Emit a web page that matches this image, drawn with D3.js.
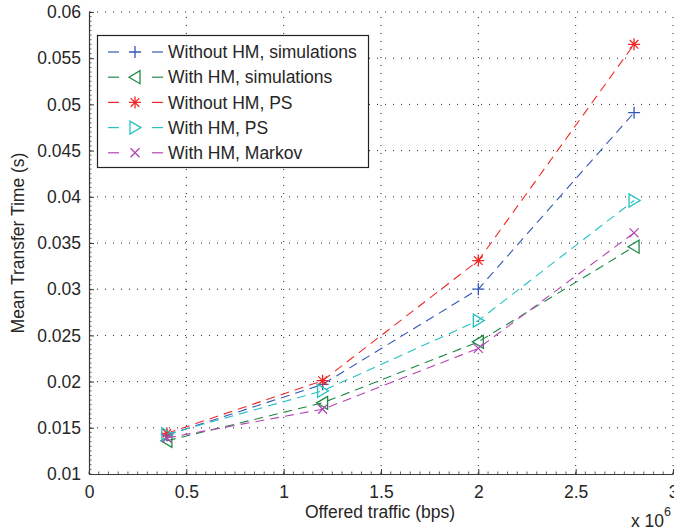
<!DOCTYPE html>
<html>
<head>
<meta charset="utf-8">
<script src="https://cdn.jsdelivr.net/npm/d3@7"></script>
<style>
  html, body { margin: 0; padding: 0; background: #fff; }
  svg { display: block; }
  text { font-family: "Liberation Sans", Arial, Helvetica, sans-serif; fill: #262626; }
</style>
</head>
<body>
<svg id="chart" width="674" height="530"></svg>
<script>
// ---- data ----
const xValues = [0.4e6, 1.2e6, 2.0e6, 2.8e6];
const seriesNames = ["Without HM, simulations", "With HM, simulations", "Without HM, PS", "With HM, PS", "With HM, Markov"];
const withoutHMSim = [0.0142, 0.0197, 0.0300, 0.0491];
const withHMSim    = [0.0136, 0.0177, 0.0243, 0.0346];
const withoutHMPS  = [0.0144, 0.0201, 0.0331, 0.0565];
const withHMPS     = [0.0143, 0.0190, 0.0266, 0.0396];
const withHMMarkov = [0.0139, 0.0170, 0.0236, 0.0361];
const xTicks = [0, 0.5e6, 1e6, 1.5e6, 2e6, 2.5e6, 3e6];
const xTickLabels = ["0", "0.5", "1", "1.5", "2", "2.5", "3"];
const yTicks = [0.01, 0.015, 0.02, 0.025, 0.03, 0.035, 0.04, 0.045, 0.05, 0.055, 0.06];
const yTickLabels = ["0.01", "0.015", "0.02", "0.025", "0.03", "0.035", "0.04", "0.045", "0.05", "0.055", "0.06"];

const series = [
  { name: seriesNames[0], values: withoutHMSim, color: "#3557b8", marker: "plus" },
  { name: seriesNames[1], values: withHMSim,    color: "#1f8a45", marker: "triLeft" },
  { name: seriesNames[2], values: withoutHMPS,  color: "#f02828", marker: "star" },
  { name: seriesNames[3], values: withHMPS,     color: "#22c2c2", marker: "triRight" },
  { name: seriesNames[4], values: withHMMarkov, color: "#b444b4", marker: "cross" }
];

// ---- layout ----
const svg = d3.select("#chart");
const pLeft = 89, pRight = 673, pTop = 12, pBottom = 474;
const x = d3.scaleLinear().domain([0, 3e6]).range([pLeft, pRight]);
const y = d3.scaleLinear().domain([0.01, 0.06]).range([pBottom, pTop]);
const axisColor = "#3a3a3a";
const fs = 17.5;

// grid
const grid = svg.append("g");
xTicks.filter(t => t > 0).forEach(t => {
  grid.append("line").attr("x1", x(t)).attr("x2", x(t)).attr("y1", pBottom).attr("y2", pTop)
    .attr("stroke", "#222").attr("stroke-width", 1).attr("stroke-dasharray", "1,7");
});
yTicks.filter(t => t > 0.01).forEach(t => {
  grid.append("line").attr("x1", pLeft).attr("x2", pRight).attr("y1", y(t)).attr("y2", y(t))
    .attr("stroke", "#222").attr("stroke-width", 1).attr("stroke-dasharray", "1,7");
});

// axes
const xAxis = d3.axisBottom(x).tickValues(xTicks).tickFormat((d, i) => xTickLabels[i]).tickSizeInner(-5).tickSizeOuter(0).tickPadding(12);
const yAxis = d3.axisLeft(y).tickValues(yTicks).tickFormat((d, i) => yTickLabels[i]).tickSizeInner(-5).tickSizeOuter(0).tickPadding(8);
const gx = svg.append("g").attr("transform", `translate(0,${pBottom})`).call(xAxis);
const gy = svg.append("g").attr("transform", `translate(${pLeft},0)`).call(yAxis);
[gx, gy].forEach(g => {
  g.select(".domain").attr("stroke", axisColor).attr("stroke-width", 1.2);
  g.selectAll(".tick line").attr("stroke", axisColor);
  g.selectAll(".tick text").attr("font-size", fs).attr("font-family", "Liberation Sans, Arial, sans-serif").attr("fill", "#262626");
});
// minor ticks
const xMinor = d3.range(0, 3e6 + 1, 0.05e6);
xMinor.forEach(t => {
  svg.append("line").attr("x1", x(t)).attr("x2", x(t)).attr("y1", pBottom).attr("y2", pBottom - 2.5)
    .attr("stroke", axisColor).attr("stroke-width", 0.8);
});
const yMinor = d3.range(0.01, 0.0601, 0.0005);
yMinor.forEach(t => {
  svg.append("line").attr("x1", pLeft).attr("x2", pLeft + 2.5).attr("y1", y(t)).attr("y2", y(t))
    .attr("stroke", axisColor).attr("stroke-width", 0.8);
});

// axis labels
svg.append("text").attr("x", (pLeft + pRight) / 2 - 1).attr("y", 518).attr("text-anchor", "middle")
  .attr("font-size", fs).text("Offered traffic (bps)");
svg.append("text").attr("transform", `translate(24,${(pTop + pBottom) / 2}) rotate(-90)`).attr("text-anchor", "middle")
  .attr("font-size", fs).text("Mean Transfer Time (s)");
const exp = svg.append("text").attr("x", 631).attr("y", 527).attr("font-size", fs);
exp.append("tspan").text("x 10");
exp.append("tspan").attr("dy", -11).attr("font-size", 12.5).text("6");

// marker shapes
function markerPath(type) {
  switch (type) {
    case "plus": return "M-6,0L6,0M0,-6L0,6";
    case "cross": return "M-4.5,-4.5L4.5,4.5M-4.5,4.5L4.5,-4.5";
    case "star": return "M-6,0L6,0M0,-6L0,6M-4.3,-4.3L4.3,4.3M-4.3,4.3L4.3,-4.3";
    case "triLeft": return "M-6,0L5,-6.5L5,6.5Z";
    case "triRight": return "M6,0L-5,-6.5L-5,6.5Z";
  }
}

// lines and markers
const lineGen = d3.line().x((d, i) => x(xValues[i])).y(d => y(d));
series.forEach(s => {
  svg.append("path").attr("d", lineGen(s.values)).attr("fill", "none")
    .attr("stroke", s.color).attr("stroke-width", 1.1).attr("stroke-dasharray", "9,6");
  svg.append("g").selectAll("path").data(s.values).join("path")
    .attr("transform", (d, i) => `translate(${x(xValues[i])},${y(d)})`)
    .attr("d", markerPath(s.marker)).attr("fill", "none")
    .attr("stroke", s.color).attr("stroke-width", 1.3);
});

// legend
const lg = svg.append("g");
lg.append("rect").attr("x", 97.5).attr("y", 35.5).attr("width", 271).attr("height", 132)
  .attr("fill", "#fff").attr("stroke", "#222").attr("stroke-width", 1.2);
series.forEach((s, i) => {
  const yy = 52 + i * 25.2;
  lg.append("line").attr("x1", 108).attr("x2", 119).attr("y1", yy).attr("y2", yy).attr("stroke", s.color).attr("stroke-width", 1.2);
  lg.append("line").attr("x1", 152).attr("x2", 163).attr("y1", yy).attr("y2", yy).attr("stroke", s.color).attr("stroke-width", 1.2);
  lg.append("path").attr("transform", `translate(135,${yy})`).attr("d", markerPath(s.marker))
    .attr("fill", "none").attr("stroke", s.color).attr("stroke-width", 1.3);
  lg.append("text").attr("x", 168).attr("y", yy + 6.2).attr("font-size", fs).text(s.name);
});
</script>
</body>
</html>
